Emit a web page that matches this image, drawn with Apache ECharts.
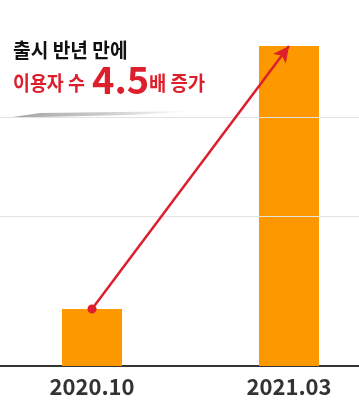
<!DOCTYPE html>
<html><head><meta charset="utf-8">
<script src="https://cdn.jsdelivr.net/npm/echarts@6/dist/echarts.min.js"></script>
<style>html,body{margin:0;padding:0;background:#fff}#c{width:359px;height:413px}</style>
</head><body><div id="c"></div>
<script>
const categories = ['2020.10', '2021.03'];
const users = [57, 320];
const gridLevels = [150, 249];
const titleLine1 = '출시 반년 만에';
const titleLine2a = '이용자 수';
const titleLine2b = '4.5';
const titleLine2c = '배 증가';

const FONT = '"Noto Sans CJK KR", "Noto Sans", sans-serif';
const RED = '#dd1f2b';
const chart = echarts.init(document.getElementById('c'), null, {renderer: 'canvas'});
chart.setOption({
  animation: false,
  backgroundColor: '#fff',
  grid: {left: -6.5, width: 394, top: 0, bottom: 47, containLabel: false, outerBoundsMode: 'none'},
  xAxis: {
    type: 'category', data: categories,
    axisLine: {lineStyle: {color: '#333', width: 2}},
    axisTick: {show: false},
    axisLabel: {color: '#333', fontSize: 22, fontWeight: 'bold', fontFamily: FONT, margin: 10}
  },
  yAxis: {type: 'value', min: 0, max: 366, show: false, splitLine: {show: false}},
  series: [{
    type: 'bar', data: users, barWidth: 60,
    itemStyle: {color: '#FE9800'},
    markLine: {
      silent: true, animation: false,
      symbol: ['none', 'none'],
      label: {show: false},
      data: [
        ...gridLevels.map(v => ({yAxis: v, lineStyle: {color: '#e2e2e2', width: 1, type: 'solid'}})),
        [
          {coord: [0, users[0]], symbol: 'circle', symbolSize: 9},
          {coord: [1, users[1]], symbol: 'arrow', symbolSize: [12, 16]}
        ]
      ],
      lineStyle: {color: RED, width: 2.5, type: 'solid'}
    }
  }],
  graphic: [
    {type: 'polygon', shape: {points: [[6,118],[40,113],[200,111],[130,115],[40,117]]},
     style: {fill: new echarts.graphic.LinearGradient(0,0,1,0,[{offset:0,color:'rgba(150,150,150,0.9)'},{offset:0.5,color:'rgba(180,180,180,0.7)'},{offset:1,color:'rgba(200,200,200,0)'}])}},
    {type: 'text', x: 13, y: 40, scaleX: 0.96, style: {text: titleLine1, fill: '#111', font: 'bold 20px ' + FONT}},
    {type: 'text', x: 13, y: 73, scaleX: 0.92, style: {text: titleLine2a, fill: RED, font: 'bold 20px ' + FONT}},
    {type: 'text', x: 92, y: 61, style: {text: titleLine2b, fill: RED, font: 'bold 38px ' + FONT}},
    {type: 'text', x: 149, y: 73, scaleX: 0.94, style: {text: titleLine2c, fill: RED, font: 'bold 20px ' + FONT}}
  ]
});
</script></body></html>
